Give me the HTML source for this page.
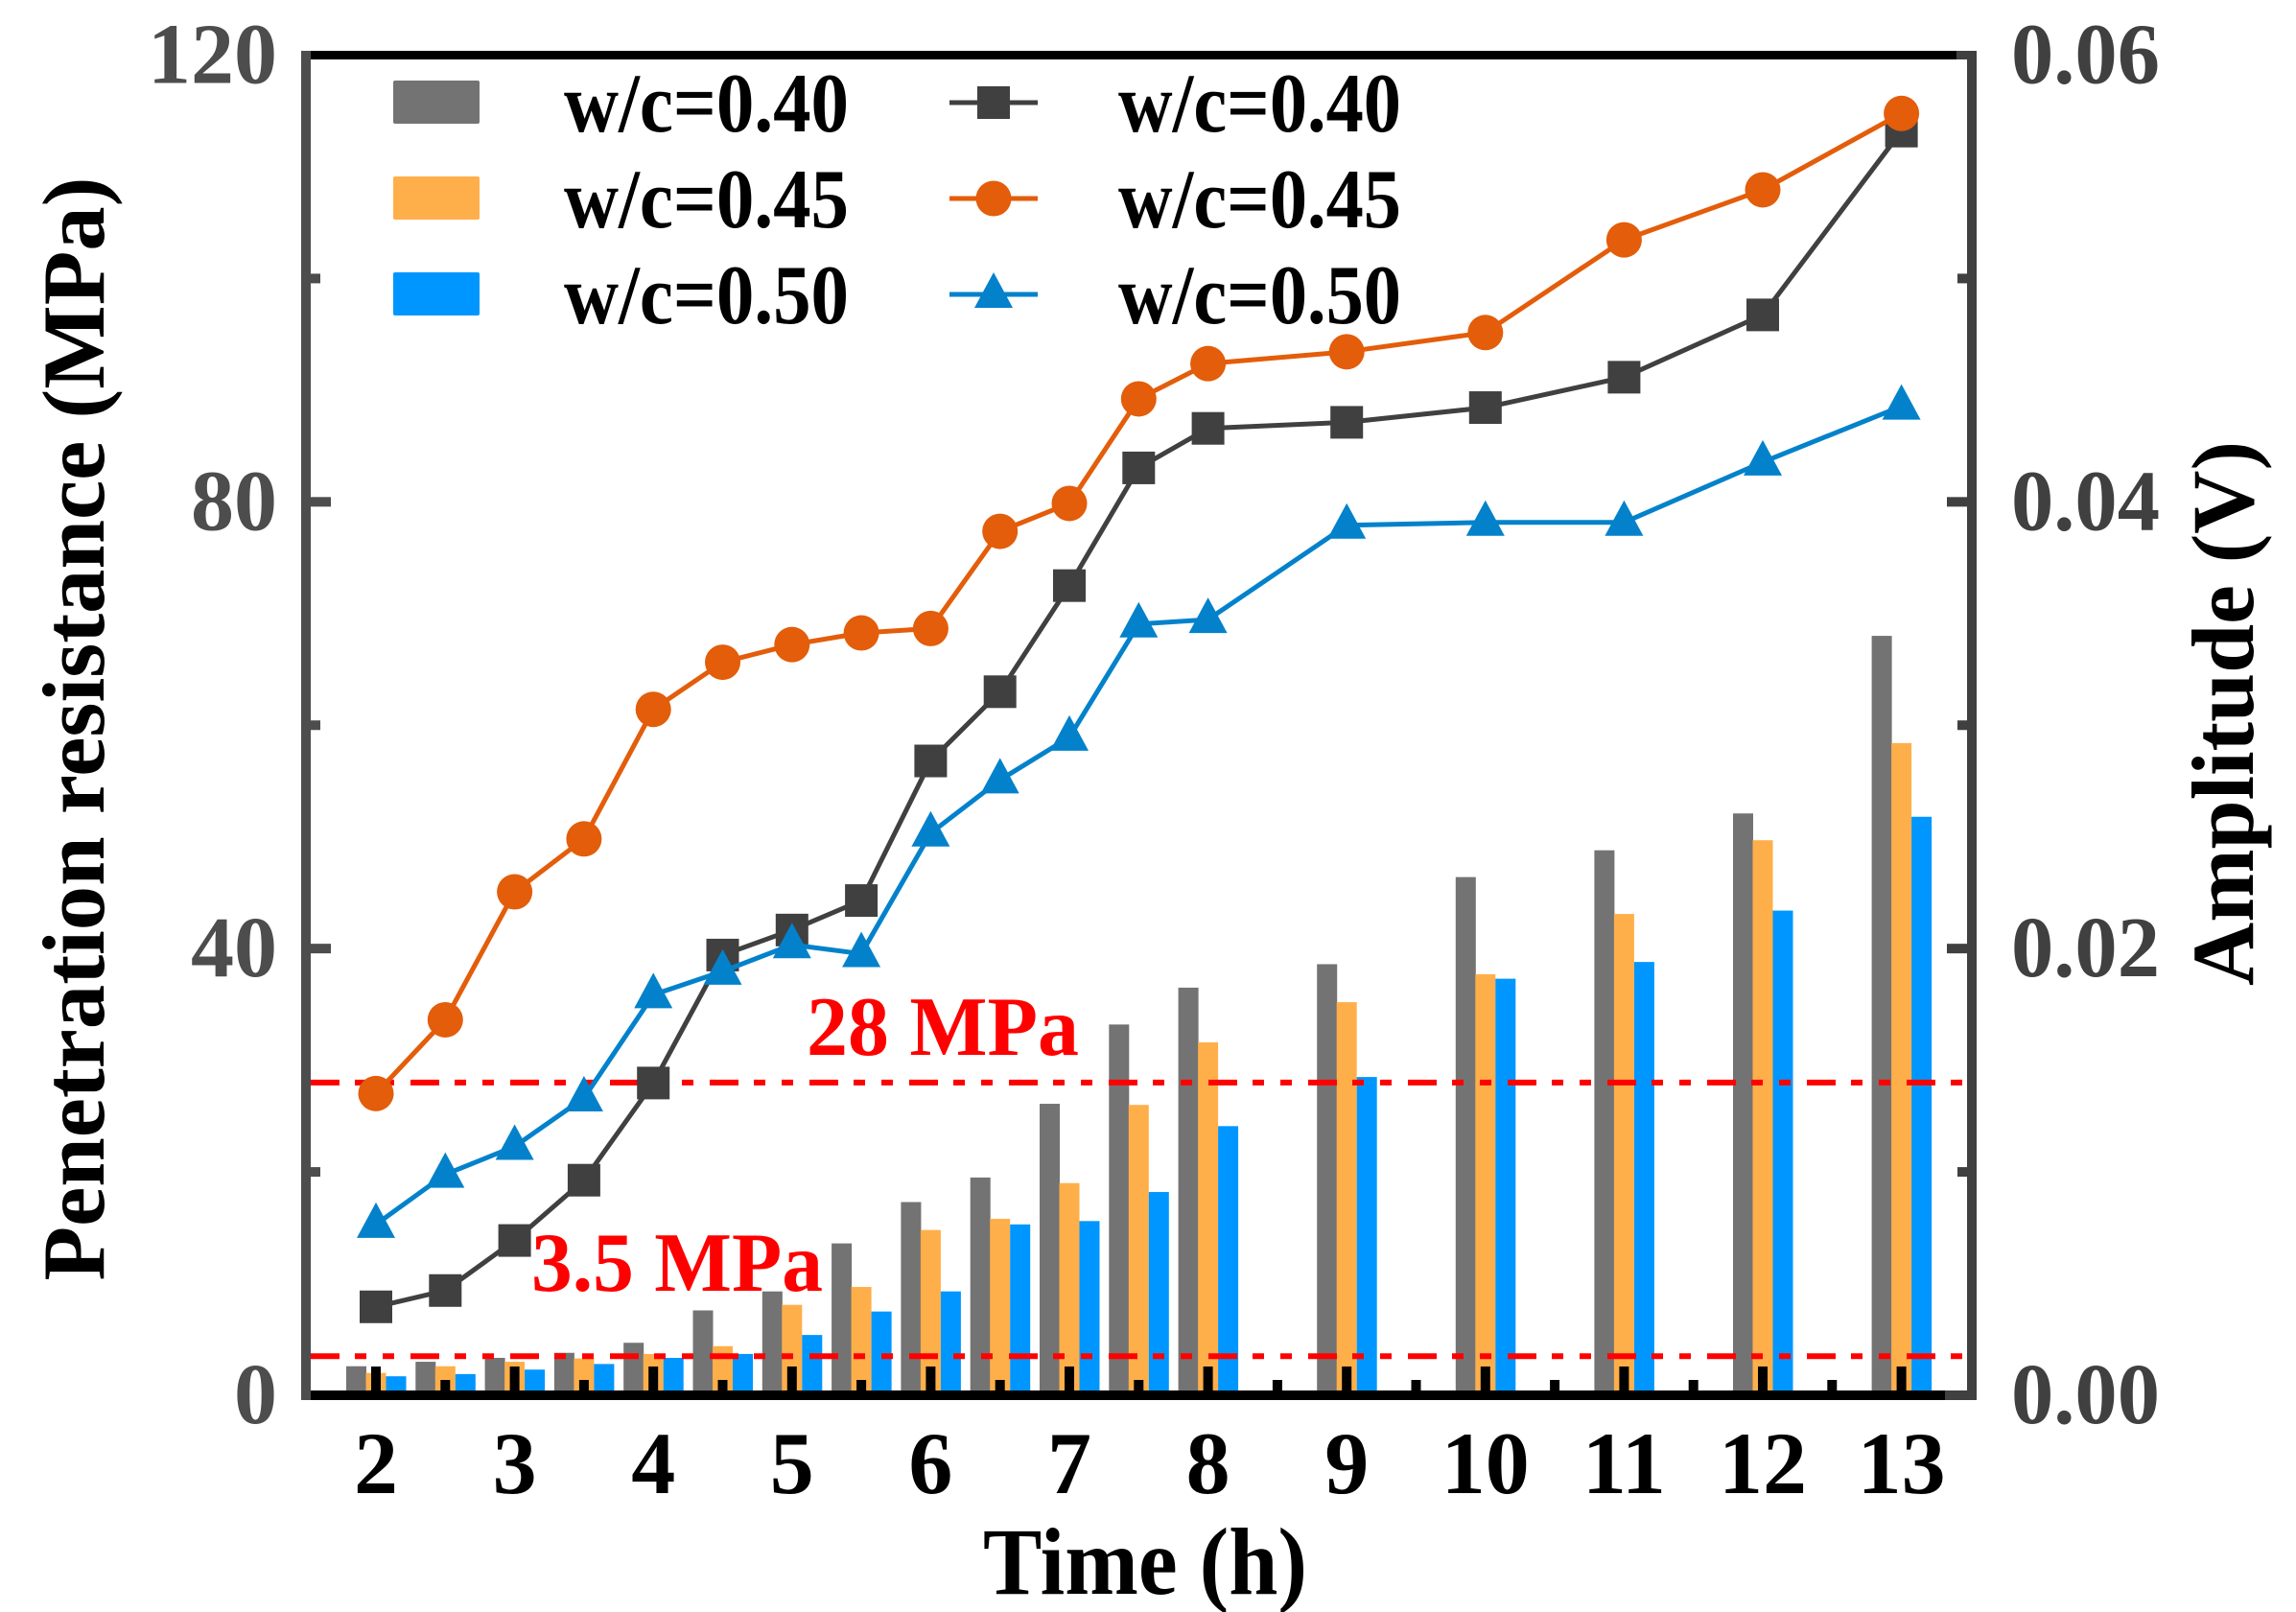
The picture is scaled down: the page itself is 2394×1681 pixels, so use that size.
<!DOCTYPE html>
<html><head><meta charset="utf-8"><style>
html,body{margin:0;padding:0;background:#fff;}
svg{display:block;font-family:"Liberation Serif",serif;font-weight:bold;}
</style></head><body>
<svg id="chart" width="2394" height="1681" viewBox="0 0 2394 1681" xmlns="http://www.w3.org/2000/svg">
<g id="bars"></g>
<g id="ticks"></g>
<g id="refs"></g>
<g id="series"></g>
<g id="frame"></g>
<g id="labels"></g>
<g id="legend"></g>
</svg>
<script>
// ---- data ----
const barTimes = [2,2.5,3,3.5,4,4.5,5,5.5,6,6.5,7,7.5,8,9,10,11,12,13];
const bar040 = [2.6,3.0,3.35,3.8,4.7,7.6,9.3,13.6,17.3,19.5,26.1,33.2,36.5,38.6,46.4,48.8,52.1,68.0];
const bar045 = [2.0,2.6,3.0,3.3,3.7,4.4,8.1,9.7,14.8,15.8,19.0,26.0,31.6,35.2,37.7,43.1,49.7,58.4];
const bar050 = [1.7,1.9,2.3,2.8,3.35,3.7,5.4,7.5,9.3,15.3,15.6,18.2,24.1,28.5,37.3,38.8,43.4,51.8];
const lineTimes = [2,2.5,3,3.5,4,4.5,5,5.5,6,6.5,7,7.5,8,9,10,11,12,13];
const amp040 = [.00396,.00469,.00693,.00963,.01398,.01971,.02083,.02215,.0284,.0315,.03625,.04152,.04329,.04356,.04422,.04558,.04837,.0566];
const amp045 = [.01351,.01681,.02254,.02491,.03071,.03282,.03361,.03413,.03433,.03868,.03993,.04461,.04619,.04672,.04758,.05173,.05397,.05739];
const amp050 = [.00765,.00989,.01114,.01331,.01793,.01898,.02017,.01977,.02517,.02755,.02946,.03453,.03473,.03895,.03908,.03908,.04178,.04428];
const xTicks = [2,3,4,5,6,7,8,9,10,11,12,13];
const leftTicks = ["0","40","80","120"];
const leftTickVals = [0,40,80,120];
const rightTicks = ["0.00","0.02","0.04","0.06"];
const rightTickVals = [0,0.02,0.04,0.06];
const refVals = [28,3.5];
const refLabels = ["28 MPa","3.5 MPa"];

// ---- axes ----
const NS="http://www.w3.org/2000/svg";
const X0=324,X1=2051,Y0=1455,YT=57.5;
function xs(t){return 392+(t-2)*144.6;}
function yl(v){return Y0-v*(Y0-YT)/120;}
function yr(a){return Y0-a*(Y0-YT)/0.06;}
function mk(tag,attrs,parent){const e=document.createElementNS(NS,tag);for(const k in attrs)e.setAttribute(k,attrs[k]);parent.appendChild(e);return e;}
const gBars=document.getElementById('bars'),gT=document.getElementById('ticks'),gR=document.getElementById('refs'),gS=document.getElementById('series'),gF=document.getElementById('frame'),gL=document.getElementById('labels'),gLeg=document.getElementById('legend');

// bars
const barSets=[[bar040,'#737373',-31,'040'],[bar045,'#ffaf4a',-10.5,'045'],[bar050,'#0096ff',10.5,'050']];
barSets.forEach(([arr,col,off,nm])=>{
  barTimes.forEach((t,i)=>{
    const r=mk('rect',{x:xs(t)+off,y:yl(arr[i]),width:21,height:Y0-yl(arr[i]),fill:col},gBars);
    
    
  });
});
// inner x ticks
for(let t=2;t<=13;t+=0.5){
  const major=Number.isInteger(t);
  const h=major?25:11;
  const r=mk('rect',{x:xs(t)-5,y:1450-h,width:10,height:h,fill:'#000'},gT);
  
  
}
// y ticks (left & right, inward)
for(let v=20;v<120;v+=20){
  const major=v%40===0;const L=major?21:10;
  const a=mk('rect',{x:X0,y:yl(v)-5,width:L,height:10,fill:'#4d4d4d'},gT);
  
  
  const b=mk('rect',{x:X1-L,y:yl(v)-5,width:L,height:10,fill:'#404040'},gT);
  
  
}
// reference lines
refVals.forEach((v,i)=>{
  const l=mk('line',{x1:X0,x2:X1,y1:yl(v),y2:yl(v),stroke:'#ff0000','stroke-width':6,'stroke-dasharray':'30 16 12 17 12 17'},gR);
  
  
});
const rl1=mk('text',{x:983,y:1100,'text-anchor':'middle',fill:'#ff0000','font-size':88,textLength:284,lengthAdjust:'spacingAndGlyphs'},gR);
rl1.textContent=refLabels[0];


const rl2=mk('text',{x:706,y:1346,'text-anchor':'middle',fill:'#ff0000','font-size':88,textLength:304,lengthAdjust:'spacingAndGlyphs'},gR);
rl2.textContent=refLabels[1];



// series
function marker(type,cx,cy,col,parent){
  let e;
  if(type==='sq')e=mk('rect',{x:cx-17,y:cy-17,width:34,height:34,fill:col},parent);
  else if(type==='ci')e=mk('circle',{cx:cx,cy:cy,r:18.5,fill:col},parent);
  else e=mk('polygon',{points:`${cx},${cy-23} ${cx+20},${cy+14} ${cx-20},${cy+14}`,fill:col},parent);
  return e;
}
const seriesDefs=[[amp040,'#404040','sq','040'],[amp045,'#e35d0a','ci','045'],[amp050,'#0382cb','tr','050']];
seriesDefs.forEach(([arr,col,type,nm])=>{
  const g=mk('g',{},gS);
  
  
  const pts=lineTimes.map((t,i)=>xs(t)+','+yr(arr[i])).join(' ');
  const pl=mk('polyline',{points:pts,fill:'none',stroke:col,'stroke-width':5},g);
  
  
  lineTimes.forEach((t,i)=>{
    const m=marker(type,xs(t),yr(arr[i]),col,g);
    
    
  });
});

// frame
[[314,53,1747,9,'#000','top-border'],[314,53,10,1407,'#4d4d4d','left-axis'],[2051,53,10,1407,'#404040','right-axis'],[324,1450,1704,10,'#000','bottom-axis'],[2028,1450,33,10,'#404040','bottom-axis-end'],[314,1450,10,10,'#4d4d4d','corner']].forEach(a=>{
  const r=mk('rect',{x:a[0],y:a[1],width:a[2],height:a[3],fill:a[4]},gF);
  
  
});
mk('rect',{x:2040,y:53,width:21,height:9,fill:'#404040'},gF);

// tick labels
leftTicks.forEach((s,i)=>{
  const t=mk('text',{x:289,y:yl(leftTickVals[i])+29,'text-anchor':'end',fill:'#4d4d4d','font-size':90},gL);
  t.textContent=s;
  
  
});
rightTicks.forEach((s,i)=>{
  const t=mk('text',{x:2097,y:yr(rightTickVals[i])+29,fill:'#404040','font-size':90,textLength:155,lengthAdjust:'spacingAndGlyphs'},gL);
  t.textContent=s;
  
  
});
xTicks.forEach(v=>{
  const t=mk('text',{x:xs(v),y:1557,'text-anchor':'middle',fill:'#000','font-size':92},gL);
  t.textContent=String(v);
  
  
});
const xt=mk('text',{x:1194,y:1662,'text-anchor':'middle',fill:'#000','font-size':100,textLength:338,lengthAdjust:'spacingAndGlyphs'},gL);
xt.textContent='Time (h)';


const ytl=mk('text',{x:0,y:0,'text-anchor':'middle',fill:'#000','font-size':92,textLength:1151,lengthAdjust:'spacingAndGlyphs',transform:'translate(108,760) rotate(-90)'},gL);
ytl.textContent='Penetration resistance (MPa)';


const ytr=mk('text',{x:0,y:0,'text-anchor':'middle',fill:'#000','font-size':92,textLength:568,lengthAdjust:'spacingAndGlyphs',transform:'translate(2349,744) rotate(-90)'},gL);
ytr.textContent='Amplitude (V)';



// legend
const legRows=[107,207,307];
const legNames=['w/c=0.40','w/c=0.45','w/c=0.50'];
const barCols=['#737373','#ffaf4a','#0096ff'];
legRows.forEach((y,i)=>{
  const sw=mk('rect',{x:410,y:y-23,width:90,height:45,fill:barCols[i],rx:2},gLeg);
  
  
  const t1=mk('text',{x:588,y:y+30,fill:'#000','font-size':88,textLength:297,lengthAdjust:'spacingAndGlyphs'},gLeg);
  t1.textContent=legNames[i];
  
  
  const sd=seriesDefs[i];
  const ln=mk('line',{x1:990,x2:1082,y1:y,y2:y,stroke:sd[1],'stroke-width':5},gLeg);
  
  
  const m=marker(sd[2],1036,y,sd[1],gLeg);
  
  
  const t2=mk('text',{x:1166,y:y+30,fill:'#000','font-size':88,textLength:295,lengthAdjust:'spacingAndGlyphs'},gLeg);
  t2.textContent=legNames[i];
  
  
});
</script>
</body></html>
